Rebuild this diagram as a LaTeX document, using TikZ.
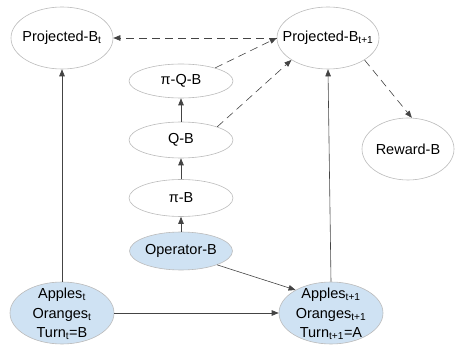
\documentclass[tikz,border=0pt]{standalone}
\usepackage{fontspec}
\setmainfont{Liberation Sans}
\usetikzlibrary{shapes.geometric,arrows.meta}
\definecolor{nodeblue}{HTML}{CFE2F3}
\definecolor{rim}{HTML}{BBBBBB}
\definecolor{wire}{HTML}{444444}
\tikzset{
  ell/.style={ellipse, draw=rim, line width=0.6pt, inner sep=0pt},
  txt/.style={align=center, inner sep=0pt, font=\fontsize{14.5}{19.5}\selectfont},
  blue/.style={fill=nodeblue},
  conn/.style={draw=wire, line width=0.6pt, -{Triangle[length=7pt,width=5.5pt]}},
  dconn/.style={conn, dash pattern=on 8pt off 5pt},
}
\begin{document}
\begin{tikzpicture}[x=1pt,y=-1pt]
\useasboundingbox (0,0) rectangle (455,347);
\node[ell, minimum width=102pt, minimum height=62pt] (pbt) at (62,38) {};
\node[txt] (pbtT) at (pbt) {Projected-B\textsubscript{t}};
\node[ell, minimum width=102pt, minimum height=62pt] (pb1) at (328,38) {};
\node[txt] (pb1T) at (pb1) {Projected-B\textsubscript{t+1}};
\node[ell, minimum width=104pt, minimum height=34pt] (pqb) at (181,81) {};
\node[txt] (pqbT) at (pqb) {π-Q-B};
\node[ell, minimum width=104pt, minimum height=36pt] (qb) at (181,140) {};
\node[txt] (qbT) at (qb) {Q-B};
\node[ell, minimum width=104pt, minimum height=37pt] (pib) at (181,198) {};
\node[txt] (pibT) at (pib) {π-B};
\node[ell, blue, minimum width=103pt, minimum height=38pt] (op) at (181,251) {};
\node[txt] (opT) at (op) {Operator-B};
\node[ell, minimum width=92pt, minimum height=62pt] (rw) at (408,149) {};
\node[txt] (rwT) at (rw) {Reward-B};
\node[ell, blue, minimum width=104pt, minimum height=62pt] (at) at (62,313) {};
\node[txt] (atT) at (62,314) {Apples\textsubscript{t}\\Oranges\textsubscript{t}\\Turn\textsubscript{t}=B};
\node[ell, blue, minimum width=104pt, minimum height=62pt] (a1) at (331,313) {};
\node[txt] (a1T) at (331,314) {Apples\textsubscript{t+1}\\Oranges\textsubscript{t+1}\\Turn\textsubscript{t+1}=A};

\draw[conn] (at.north) -- (pbt.south);
\draw[conn] (a1.north) -- (pb1.south);
\draw[conn] (at.east) -- (a1.west);
\draw[conn] (op.-21) -- (a1.147);
\draw[conn] (op.north) -- (pib.south);
\draw[conn] (pib.north) -- (qb.south);
\draw[conn] (qb.north) -- (pqb.south);
\draw[dconn] (qb.20) -- (pb1.211);
\draw[dconn] (pqb.21) -- (pb1.180);
\draw[dconn] (pb1.west) -- (pbt.east);
\draw[dconn] (pb1.-31) -- (rw.83);
\end{tikzpicture}
\end{document}
